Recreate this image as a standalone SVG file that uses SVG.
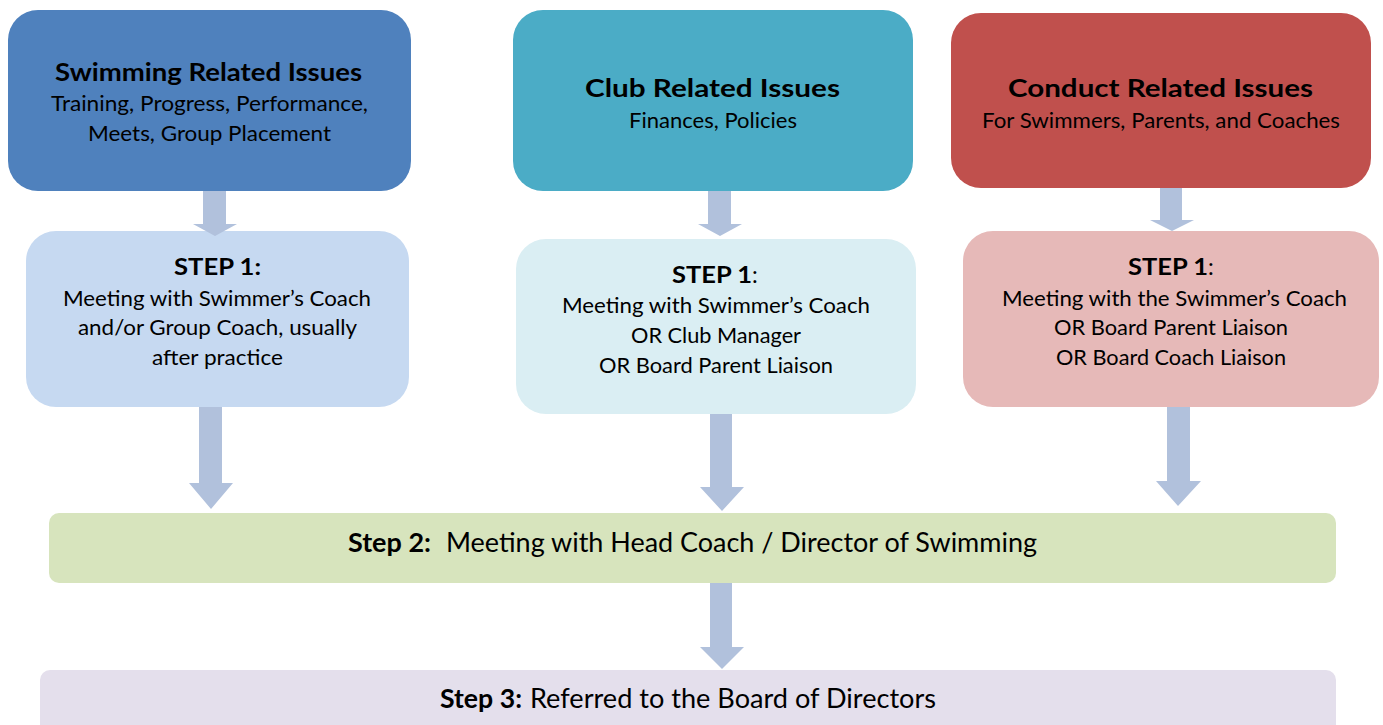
<svg xmlns="http://www.w3.org/2000/svg" width="1383" height="725" viewBox="0 0 1383 725">
<style>
text{font-family:Lato,"Liberation Sans",sans-serif;fill:#000}
.t{font-size:24.5px;font-weight:bold}
.b{font-size:21px}
.s{font-size:23px;font-weight:bold}
.w{font-size:26px}
.bold{font-weight:bold}
.arr{fill:#B1C1DC}
</style>
<rect width="1383" height="725" fill="#fff"/>
<g id="swimming">
<rect x="8" y="10" width="403" height="181" rx="30" fill="#4F81BD"/>
<text class="t" x="55" y="81" textLength="307" lengthAdjust="spacingAndGlyphs">Swimming Related Issues</text>
<text class="b" x="51" y="111" textLength="317" lengthAdjust="spacingAndGlyphs">Training, Progress, Performance,</text>
<text class="b" x="88" y="141" textLength="243" lengthAdjust="spacingAndGlyphs">Meets, Group Placement</text>
</g>
<g id="club">
<rect x="513" y="10" width="400" height="181" rx="30" fill="#4BACC6"/>
<text class="t" x="585" y="97" textLength="255" lengthAdjust="spacingAndGlyphs">Club Related Issues</text>
<text class="b" x="629" y="128" textLength="168" lengthAdjust="spacingAndGlyphs">Finances, Policies</text>
</g>
<g id="conduct">
<rect x="951" y="13" width="420" height="175" rx="30" fill="#C0504D"/>
<text class="t" x="1008" y="97" textLength="305" lengthAdjust="spacingAndGlyphs">Conduct Related Issues</text>
<text class="b" x="982" y="128" textLength="358" lengthAdjust="spacingAndGlyphs">For Swimmers, Parents, and Coaches</text>
</g>
<g id="step1-swimming">
<rect x="26" y="231" width="383" height="176" rx="30" fill="#C6D9F1"/>
<text class="s" x="174" y="275" textLength="87" lengthAdjust="spacingAndGlyphs">STEP 1:</text>
<text class="b" x="63" y="306" textLength="308" lengthAdjust="spacingAndGlyphs">Meeting with Swimmer’s Coach</text>
<text class="b" x="78" y="335" textLength="279" lengthAdjust="spacingAndGlyphs">and/or Group Coach, usually</text>
<text class="b" x="152" y="365" textLength="131" lengthAdjust="spacingAndGlyphs">after practice</text>
</g>
<g id="step1-club">
<rect x="516" y="239" width="400" height="175" rx="30" fill="#DAEEF3"/>
<text class="s" y="283"><tspan x="672" textLength="80" lengthAdjust="spacingAndGlyphs">STEP 1</tspan><tspan style="font-weight:normal">:</tspan></text>
<text class="b" x="562" y="313" textLength="308" lengthAdjust="spacingAndGlyphs">Meeting with Swimmer’s Coach</text>
<text class="b" x="631" y="343" textLength="170" lengthAdjust="spacingAndGlyphs">OR Club Manager</text>
<text class="b" x="599" y="373" textLength="234" lengthAdjust="spacingAndGlyphs">OR Board Parent Liaison</text>
</g>
<g id="step1-conduct">
<rect x="963" y="231" width="416" height="176" rx="30" fill="#E6B9B8"/>
<text class="s" y="275"><tspan x="1128" textLength="80" lengthAdjust="spacingAndGlyphs">STEP 1</tspan><tspan style="font-weight:normal">:</tspan></text>
<text class="b" x="1002" y="306" textLength="345" lengthAdjust="spacingAndGlyphs">Meeting with the Swimmer’s Coach</text>
<text class="b" x="1054" y="335" textLength="234" lengthAdjust="spacingAndGlyphs">OR Board Parent Liaison</text>
<text class="b" x="1056" y="365" textLength="230" lengthAdjust="spacingAndGlyphs">OR Board Coach Liaison</text>
</g>
<g id="step2">
<rect x="49" y="513" width="1287" height="70" rx="10" fill="#D7E4BD"/>
<text class="w" y="552"><tspan class="bold" x="348" textLength="83" lengthAdjust="spacingAndGlyphs">Step 2:</tspan><tspan x="446" textLength="591" lengthAdjust="spacingAndGlyphs">Meeting with Head Coach / Director of Swimming</tspan></text>
</g>
<g id="step3">
<rect x="40" y="670" width="1296" height="80" rx="10" fill="#E4DFEC"/>
<text class="w" y="708"><tspan class="bold" x="440" textLength="82" lengthAdjust="spacingAndGlyphs">Step 3:</tspan><tspan x="530" textLength="406" lengthAdjust="spacingAndGlyphs">Referred to the Board of Directors</tspan></text>
</g>
<g id="connectors">
<path class="arr" d="M203,191H226V224H237L215,236L193,224H203Z"/>
<path class="arr" d="M708,191H731V224H742L720,236L698,224H708Z"/>
<path class="arr" d="M1160,188H1182V220H1194L1172,231L1150,220H1160Z"/>
<path class="arr" d="M199,407H222V483H233L211,509L189,483H199Z"/>
<path class="arr" d="M710,414H732V487H744L722,511L700,487H710Z"/>
<path class="arr" d="M1167,407H1190V481H1201L1178,506L1156,481H1167Z"/>
<path class="arr" d="M710,583H732V647H744L722,669L700,647H710Z"/>
</g>
</svg>
